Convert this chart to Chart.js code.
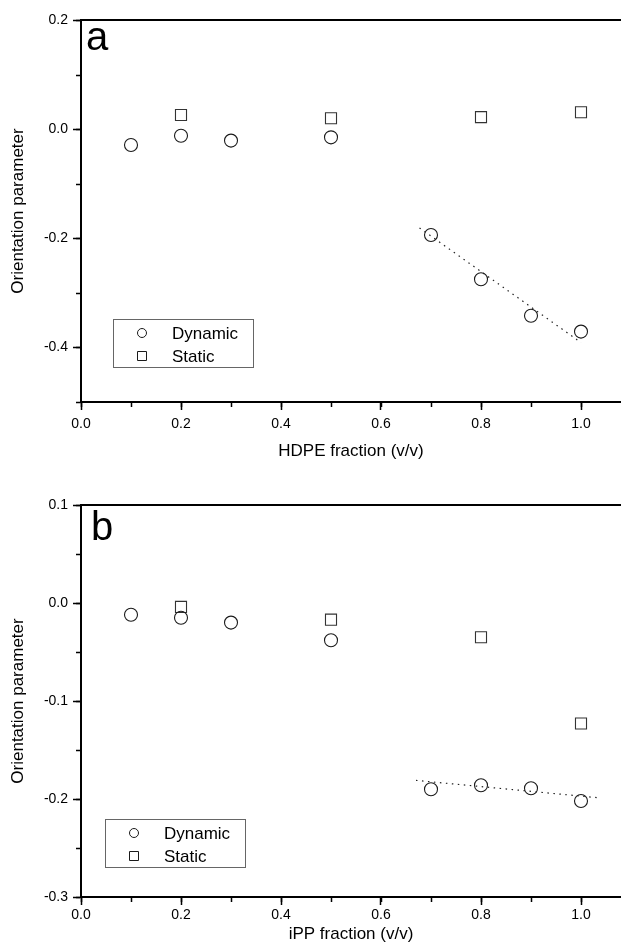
<!doctype html>
<html lang="en">
  <head>
    <meta charset="utf-8">
    <title>Orientation parameter vs fraction</title>
    <style>
      * {
        margin: 0;
        padding: 0;
      }
      body {
        background: #fff;
        width: 621px;
        height: 945px;
        overflow: hidden;
      }
      canvas {
        display: block;
      }
    </style>
  </head>
  <body>
    <canvas id="chartA" width="621" height="470"></canvas>
    <canvas id="chartB" width="621" height="475"></canvas>
    <script src="https://cdn.jsdelivr.net/npm/chart.js/dist/chart.umd.min.js"></script>
    <script>
    // data
    const fractions = [0.1, 0.2, 0.3, 0.5, 0.7, 0.8, 0.9, 1.0];
    const staticFractions = [0.2, 0.5, 0.8, 1.0];

    // panel a: HDPE
    const hdpeDynamic = [-0.029, -0.012, -0.021, -0.015, -0.194, -0.275, -0.342, -0.371];
    const hdpeStatic = [0.026, 0.020, 0.022, 0.031];
    const hdpeFitX = [0.677, 1.0];
    const hdpeFitY = [-0.181, -0.391];

    // panel b: iPP
    const ippDynamic = [-0.012, -0.015, -0.020, -0.038, -0.190, -0.186, -0.189, -0.202];
    const ippStatic = [-0.004, -0.017, -0.035, -0.123];
    const ippFitX = [0.67, 1.04];
    const ippFitY = [-0.181, -0.199];

    const seriesNames = ['Dynamic', 'Static'];
    const xTicks = [0.0, 0.2, 0.4, 0.6, 0.8, 1.0];

    const FONT = '"Liberation Sans", Arial, sans-serif';
    const INK = '#1a1a1a';

    const pts = (xs, ys) => xs.map((x, i) => ({x, y: ys[i]}));
    const fmt = v => (Math.abs(v) < 1e-9 ? '0.0' : v.toFixed(1));

    // frame top line, minor ticks, panel letter and boxed legend
    const panelDecor = {
      id: 'panelDecor',
      afterDraw(chart, args, opts) {
        const {ctx, chartArea: a, scales} = chart;
        const xs = scales.x, ys = scales.y;
        ctx.save();
        ctx.strokeStyle = '#000';
        ctx.lineWidth = 2;
        ctx.beginPath();
        ctx.moveTo(a.left - 1, a.top);
        ctx.lineTo(a.right, a.top);
        ctx.stroke();

        ctx.lineWidth = 1.5;
        ctx.beginPath();
        for (let i = 0; xs.min + i * opts.minorX <= xs.max + 1e-9; i++) {
          const px = Math.round(xs.getPixelForValue(xs.min + i * opts.minorX)) + 0.5;
          ctx.moveTo(px, a.bottom);
          ctx.lineTo(px, a.bottom + 5);
        }
        for (let i = 0; ys.min + i * opts.minorY <= ys.max + 1e-9; i++) {
          const py = Math.round(ys.getPixelForValue(ys.min + i * opts.minorY)) + 0.5;
          ctx.moveTo(a.left, py);
          ctx.lineTo(a.left - 5, py);
        }
        ctx.stroke();

        ctx.fillStyle = '#000';
        ctx.font = '40px ' + FONT;
        ctx.textBaseline = 'alphabetic';
        ctx.fillText(opts.letter, a.left + opts.letterDx, a.top + opts.letterDy);

        // legend box
        const bx = a.left + opts.legendX, by = a.top + opts.legendY;
        ctx.strokeStyle = '#666';
        ctx.lineWidth = 1;
        ctx.strokeRect(bx + 0.5, by + 0.5, 140, 48);
        ctx.font = '17px ' + FONT;
        ctx.textBaseline = 'middle';
        ctx.strokeStyle = INK;
        const items = chart.data.datasets.filter(d => seriesNames.includes(d.label));
        items.forEach((d, i) => {
          const cy = by + 14 + i * 23;
          const cx = bx + 29;
          ctx.beginPath();
          if (d.pointStyle === 'circle') {
            ctx.arc(cx, cy, 4.5, 0, Math.PI * 2);
          } else {
            ctx.rect(cx - 4.5, cy - 4.5, 9, 9);
          }
          ctx.stroke();
          ctx.fillText(d.label, bx + 59, cy + 1);
        });
        ctx.restore();
      }
    };

    function makeConfig(dyn, stat, fitX, fitY, yMin, yMax, yStep, xTitle, xAxisH, top, decor) {
      return {
        type: 'scatter',
        data: {
          datasets: [
            {
              label: 'Fit',
              data: pts(fitX, fitY),
              showLine: true,
              borderColor: '#222',
              borderWidth: 1.2,
              borderDash: [1.5, 4.5],
              pointRadius: 0
            },
            {
              label: seriesNames[0],
              data: pts(fractions, dyn),
              pointStyle: 'circle',
              pointRadius: 6.5,
              borderColor: INK,
              borderWidth: 1.1,
              backgroundColor: 'transparent'
            },
            {
              label: seriesNames[1],
              data: pts(staticFractions, stat),
              pointStyle: 'rect',
              pointRadius: 7.8,
              borderColor: '#333',
              borderWidth: 1.1,
              backgroundColor: 'transparent'
            }
          ]
        },
        options: {
          responsive: false,
          animation: false,
          layout: {
            autoPadding: false,
            padding: {top: top, right: 0, left: 0, bottom: 0}
          },
          plugins: {
            legend: {display: false},
            tooltip: {enabled: false},
            panelDecor: decor
          },
          scales: {
            x: {
              type: 'linear',
              min: 0,
              max: 1.08,
              afterFit: s => { s.height = xAxisH; },
              afterBuildTicks: s => { s.ticks = xTicks.map(v => ({value: v})); },
              border: {color: '#000', width: 2},
              grid: {drawOnChartArea: false, tickLength: 8, tickWidth: 1.5, tickColor: '#000'},
              ticks: {
                color: '#000',
                padding: decor.xTickPad,
                maxRotation: 0,
                font: {family: FONT, size: 14},
                callback: v => fmt(v)
              },
              title: {
                display: true,
                text: xTitle,
                color: '#000',
                padding: {top: 0, bottom: decor.xTitlePad},
                font: {family: FONT, size: 17}
              }
            },
            y: {
              type: 'linear',
              min: yMin,
              max: yMax,
              afterFit: s => { s.width = 81; },
              border: {color: '#000', width: 2},
              grid: {drawOnChartArea: false, tickLength: 8, tickWidth: 1.5, tickColor: '#000'},
              ticks: {
                color: '#000',
                stepSize: yStep,
                includeBounds: false,
                padding: 5,
                font: {family: FONT, size: 14},
                callback: v => fmt(v)
              },
              title: {
                display: true,
                text: 'Orientation parameter',
                color: '#000',
                padding: {top: 8, bottom: 0},
                font: {family: FONT, size: 17}
              }
            }
          }
        },
        plugins: [panelDecor]
      };
    }

    new Chart(document.getElementById('chartA'), makeConfig(
      hdpeDynamic, hdpeStatic, hdpeFitX, hdpeFitY, -0.5, 0.2, 0.2,
      'HDPE fraction (v/v)', 68, 20,
      {minorX: 0.1, minorY: 0.1, letter: 'a', letterDx: 5, letterDy: 30,
       legendX: 32, legendY: 299, xTickPad: 6, xTitlePad: 8}
    ));

    new Chart(document.getElementById('chartB'), makeConfig(
      ippDynamic, ippStatic, ippFitX, ippFitY, -0.3, 0.1, 0.1,
      'iPP fraction (v/v)', 48, 35,
      {minorX: 0.1, minorY: 0.05, letter: 'b', letterDx: 10, letterDy: 35,
       legendX: 24, legendY: 314, xTickPad: 2, xTitlePad: 0}
    ));
    </script>
  </body>
</html>
